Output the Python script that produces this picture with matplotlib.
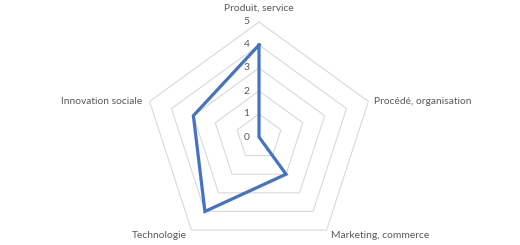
import numpy as np
import matplotlib
matplotlib.use("Agg")
import matplotlib.pyplot as plt

# chart data
categories = ["Produit, service", "Procédé, organisation", "Marketing, commerce",
              "Technologie", "Innovation sociale"]
values = [4, 0, 2, 4, 3]
rings = [1, 2, 3, 4, 5]
tick_labels = ["0", "1", "2", "3", "4", "5"]

text_color = "#595959"
grid_color = "#d9d9d9"
line_color = "#4472C4"
font = "Lato"
fs = 7.4

fig = plt.figure(figsize=(5.2, 2.45), dpi=100)
ax = fig.add_axes([0, 0, 1, 1])
ax.set_xlim(-259 / 23, (520 - 259) / 23)
ax.set_ylim(-108 / 23, 137 / 23)
ax.axis("off")

# angles: start at top, go clockwise
n = len(categories)
angles = np.pi / 2 - 2 * np.pi * np.arange(n) / n
ux = np.cos(angles)
uy = np.sin(angles)

# pentagon grid (no spokes)
for r in rings:
    ax.plot(np.append(ux * r, ux[0] * r), np.append(uy * r, uy[0] * r),
            color=grid_color, lw=0.8, zorder=1)

# data line
v = np.array(values, dtype=float)
ax.plot(np.append(ux * v, ux[0] * v[0]), np.append(uy * v, uy[0] * v[0]),
        color=line_color, lw=2.3, solid_joinstyle="miter", zorder=3)

# value tick labels along top spoke
for k, t in enumerate(tick_labels):
    ax.text(-0.42, k, t, ha="right", va="center", fontsize=fs,
            color=text_color, family=font)

# category labels
R = rings[-1]
for i, name in enumerate(categories):
    x, y = ux[i] * R, uy[i] * R
    if i == 0:
        ax.text(x, y + 0.6, name, ha="center", va="center", fontsize=fs,
                color=text_color, family=font)
    elif i == 1:
        ax.text(x + 0.25, y, name, ha="left", va="center", fontsize=fs,
                color=text_color, family=font)
    elif i == 2:
        ax.text(x + 0.2, y - 0.25, name, ha="left", va="center", fontsize=fs,
                color=text_color, family=font)
    elif i == 3:
        ax.text(x - 0.2, y - 0.25, name, ha="right", va="center", fontsize=fs,
                color=text_color, family=font)
    else:
        ax.text(x - 0.3, y, name, ha="right", va="center", fontsize=fs,
                color=text_color, family=font)

fig.savefig("out.png", dpi=100)
